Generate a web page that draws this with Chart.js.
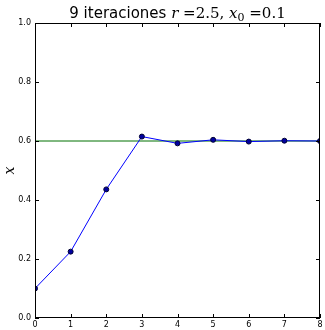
<!DOCTYPE html>
<html>
<head>
<meta charset="utf-8">
<script src="https://cdn.jsdelivr.net/npm/chart.js@4"></script>
<style>
  html, body { margin: 0; padding: 0; background: #fff; }
  #wrap { width: 325px; height: 330px; }
</style>
</head>
<body>
<div id="wrap"><canvas id="chart" width="325" height="330"></canvas></div>
<script>
// Iteration values
const iterations = [0, 1, 2, 3, 4, 5, 6, 7, 8];
const xValues = [0.1, 0.225, 0.436, 0.615, 0.592, 0.604, 0.598, 0.601, 0.600];
const fixedPoint = 0.6;
const xTicks = [0, 1, 2, 3, 4, 5, 6, 7, 8];
const yTicks = [0.0, 0.2, 0.4, 0.6, 0.8, 1.0];

const tickFont = { family: 'DejaVu Sans', size: 8 };

// Draws the frame, inward ticks, mixed-font title and y label
const decorPlugin = {
    id: 'decor',
    afterDatasetsDraw(chart) {
        const ctx = chart.ctx;
        const area = chart.chartArea;
        const xs = chart.scales.x;
        const ys = chart.scales.y;
        ctx.save();
        ctx.strokeStyle = '#000';
        ctx.lineWidth = 1;
        ctx.beginPath();
        xTicks.forEach(v => {
            const px = Math.round(xs.getPixelForValue(v)) + 0.5;
            ctx.moveTo(px, area.bottom); ctx.lineTo(px, area.bottom - 4);
            ctx.moveTo(px, area.top); ctx.lineTo(px, area.top + 4);
        });
        yTicks.forEach(v => {
            const py = Math.round(ys.getPixelForValue(v)) + 0.5;
            ctx.moveTo(area.left, py); ctx.lineTo(area.left + 4, py);
            ctx.moveTo(area.right, py); ctx.lineTo(area.right - 4, py);
        });
        ctx.stroke();
        ctx.strokeRect(area.left + 0.5, area.top + 0.5, area.right - area.left - 1, area.bottom - area.top - 1);
        ctx.restore();
    },
    afterDraw(chart) {
        const ctx = chart.ctx;
        const area = chart.chartArea;
        ctx.save();
        ctx.fillStyle = '#000';
        ctx.textBaseline = 'alphabetic';
        // title pieces
        const parts = [
            { t: '9 iteraciones ', f: '15px "DejaVu Sans"', dy: 0 },
            { t: 'r', f: 'italic 15px "DejaVu Serif"', dy: 0 },
            { t: ' =2.5, ', f: '15px "DejaVu Serif"', dy: 0 },
            { t: 'x', f: 'italic 15px "DejaVu Serif"', dy: 0 },
            { t: '0', f: '11px "DejaVu Serif"', dy: 3 },
            { t: ' =0.1', f: '15px "DejaVu Serif"', dy: 0 }
        ];
        let total = 0;
        parts.forEach(p => { ctx.font = p.f; p.w = ctx.measureText(p.t).width; total += p.w; });
        let x = (area.left + area.right) / 2 - total / 2;
        const base = 18;
        parts.forEach(p => {
            ctx.font = p.f;
            ctx.fillText(p.t, x, base + p.dy);
            x += p.w;
        });
        // y label
        ctx.translate(14, (area.top + area.bottom) / 2);
        ctx.rotate(-Math.PI / 2);
        ctx.font = 'italic 14px "DejaVu Serif"';
        ctx.textAlign = 'center';
        ctx.fillText('x', 0, 0);
        ctx.restore();
    }
};

new Chart(document.getElementById('chart'), {
    type: 'line',
    data: {
        datasets: [{
            data: iterations.map((it, i) => ({ x: it, y: xValues[i] })),
            borderColor: '#0000ff',
            borderWidth: 1,
            pointRadius: 2.5,
            pointBackgroundColor: '#0000a0',
            pointBorderColor: '#000033',
            pointBorderWidth: 1,
            tension: 0,
            clip: 0
        }, {
            data: [{ x: iterations[0], y: fixedPoint }, { x: iterations[iterations.length - 1], y: fixedPoint }],
            borderColor: '#007000',
            borderWidth: 1,
            pointRadius: 0,
            clip: 0
        }]
    },
    options: {
        responsive: false,
        animation: false,
        events: [],
        layout: { padding: { top: 23, right: 3, left: 0, bottom: 0 } },
        plugins: { legend: { display: false }, tooltip: { enabled: false }, title: { display: false } },
        scales: {
            x: {
                type: 'linear',
                min: 0,
                max: 8,
                grid: { display: false, drawTicks: false },
                border: { display: false },
                afterFit(scale) { scale.height = 12; },
                afterBuildTicks(scale) { scale.ticks = xTicks.map(v => ({ value: v })); },
                ticks: {
                    font: tickFont,
                    color: '#000',
                    padding: 2,
                    maxRotation: 0,
                    callback: v => String(v)
                }
            },
            y: {
                type: 'linear',
                min: 0,
                max: 1,
                grid: { display: false, drawTicks: false },
                border: { display: false },
                afterFit(scale) { scale.width = 35; },
                afterBuildTicks(scale) { scale.ticks = yTicks.map(v => ({ value: v })); },
                ticks: {
                    font: tickFont,
                    color: '#000',
                    padding: 4,
                    callback: v => v.toFixed(1)
                }
            }
        }
    },
    plugins: [decorPlugin]
});
</script>
</body>
</html>
